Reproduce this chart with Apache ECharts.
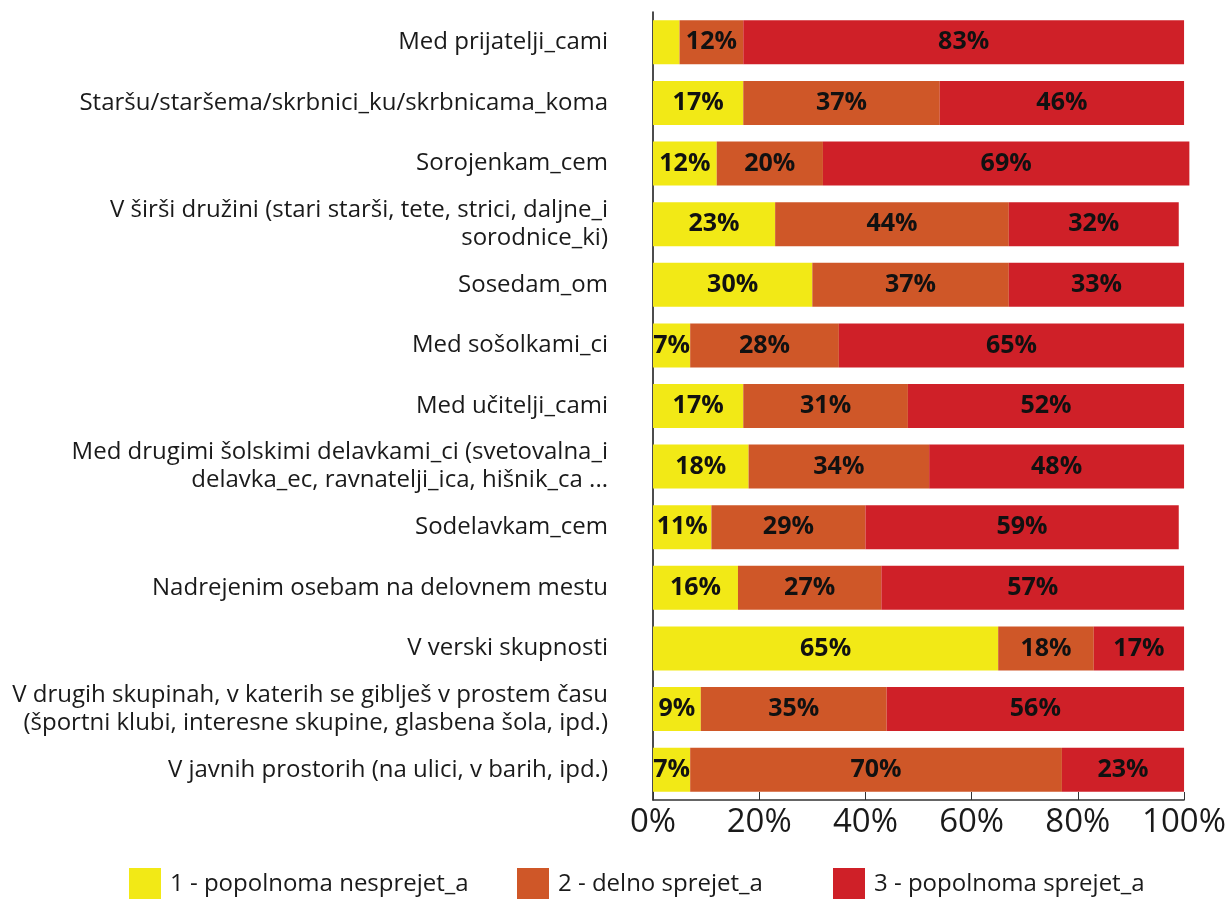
<!DOCTYPE html>
<html>
<head>
<meta charset="utf-8">
<title>Sprejetost</title>
<script src="https://cdn.jsdelivr.net/npm/echarts@6/dist/echarts.min.js"></script>
<style>
  html, body { margin: 0; padding: 0; background: #fff; }
  #chart { width: 1229px; height: 899px; }
</style>
</head>
<body>
<div id="chart"></div>
<script>
const categories = [
  'Med prijatelji_cami',
  'Staršu/staršema/skrbnici_ku/skrbnicama_koma',
  'Sorojenkam_cem',
  'V širši družini (stari starši, tete, strici, daljne_i\nsorodnice_ki)',
  'Sosedam_om',
  'Med sošolkami_ci',
  'Med učitelji_cami',
  'Med drugimi šolskimi delavkami_ci (svetovalna_i\ndelavka_ec, ravnatelji_ica, hišnik_ca ...',
  'Sodelavkam_cem',
  'Nadrejenim osebam na delovnem mestu',
  'V verski skupnosti',
  'V drugih skupinah, v katerih se giblješ v prostem času\n(športni klubi, interesne skupine, glasbena šola, ipd.)',
  'V javnih prostorih (na ulici, v barih, ipd.)'
]
const seriesNames = ['1 - popolnoma nesprejet_a', '2 - delno sprejet_a', '3 - popolnoma sprejet_a']
const nesprejet = [5, 17, 12, 23, 30, 7, 17, 18, 11, 16, 65, 9, 7]
const delno = [12, 37, 20, 44, 37, 28, 31, 34, 29, 27, 18, 35, 70]
const sprejet = [83, 46, 69, 32, 33, 65, 52, 48, 59, 57, 17, 56, 23]
// vrednosti brez napisa (premajhen segment)
const hiddenLabels = [[0, 0]]
const xTicks = [0, 20, 40, 60, 80, 100]

const colors = ['#F2E916', '#CF5728', '#CF2028']
const font = '"Open Sans", "Noto Sans", sans-serif'

function withLabels(values, sIdx) {
  return values.map((v, i) => {
    const hide = hiddenLabels.some(h => h[0] === i && h[1] === sIdx)
    return hide ? { value: v, label: { show: false } } : v
  })
}

const chart = echarts.init(document.getElementById('chart'))
chart.setOption({
  backgroundColor: '#fff',
  animation: false,
  textStyle: { fontFamily: font },
  grid: {
    left: 653,
    right: 41,
    top: 12,
    bottom: 99,
  },
  legend: seriesNames.map((name, i) => ({
    data: [name],
    left: [124, 512, 828][i],
    top: 863,
    itemWidth: 32,
    itemHeight: 32,
    icon: 'rect',
    itemGap: 0,
    selectedMode: false,
    textStyle: {
      color: '#1a1a1a',
      fontSize: 24,
      fontFamily: font,
      padding: [0, 0, 0, 4],
    },
  })),
  xAxis: {
    type: 'value',
    min: xTicks[0],
    max: xTicks[xTicks.length - 1],
    interval: 20,
    axisLine: {
      show: true,
      lineStyle: { color: '#333', width: 1.5 },
    },
    axisTick: {
      show: true,
      inside: true,
      length: 8,
      lineStyle: { color: '#333' },
    },
    splitLine: { show: false },
    axisLabel: {
      color: '#1a1a1a',
      fontSize: 33,
      fontFamily: font,
      margin: 6,
      formatter: '{value}%',
    },
  },
  yAxis: {
    type: 'category',
    inverse: true,
    data: categories,
    axisLine: {
      show: true,
      lineStyle: { color: '#111', width: 1.5 },
    },
    axisTick: { show: false },
    axisLabel: {
      color: '#1a1a1a',
      fontSize: 24,
      lineHeight: 28,
      fontFamily: font,
      margin: 45,
      align: 'right',
    },
  },
  series: [nesprejet, delno, sprejet].map((values, sIdx) => ({
    name: seriesNames[sIdx],
    type: 'bar',
    stack: 'total',
    barWidth: 44,
    clip: false,
    itemStyle: { color: colors[sIdx] },
    label: {
      show: true,
      position: 'inside',
      color: '#111',
      fontSize: 25,
      fontWeight: 'bold',
      fontFamily: font,
      formatter: '{c}%',
    },
    data: withLabels(values, sIdx),
  })),
})
</script>
</body>
</html>
